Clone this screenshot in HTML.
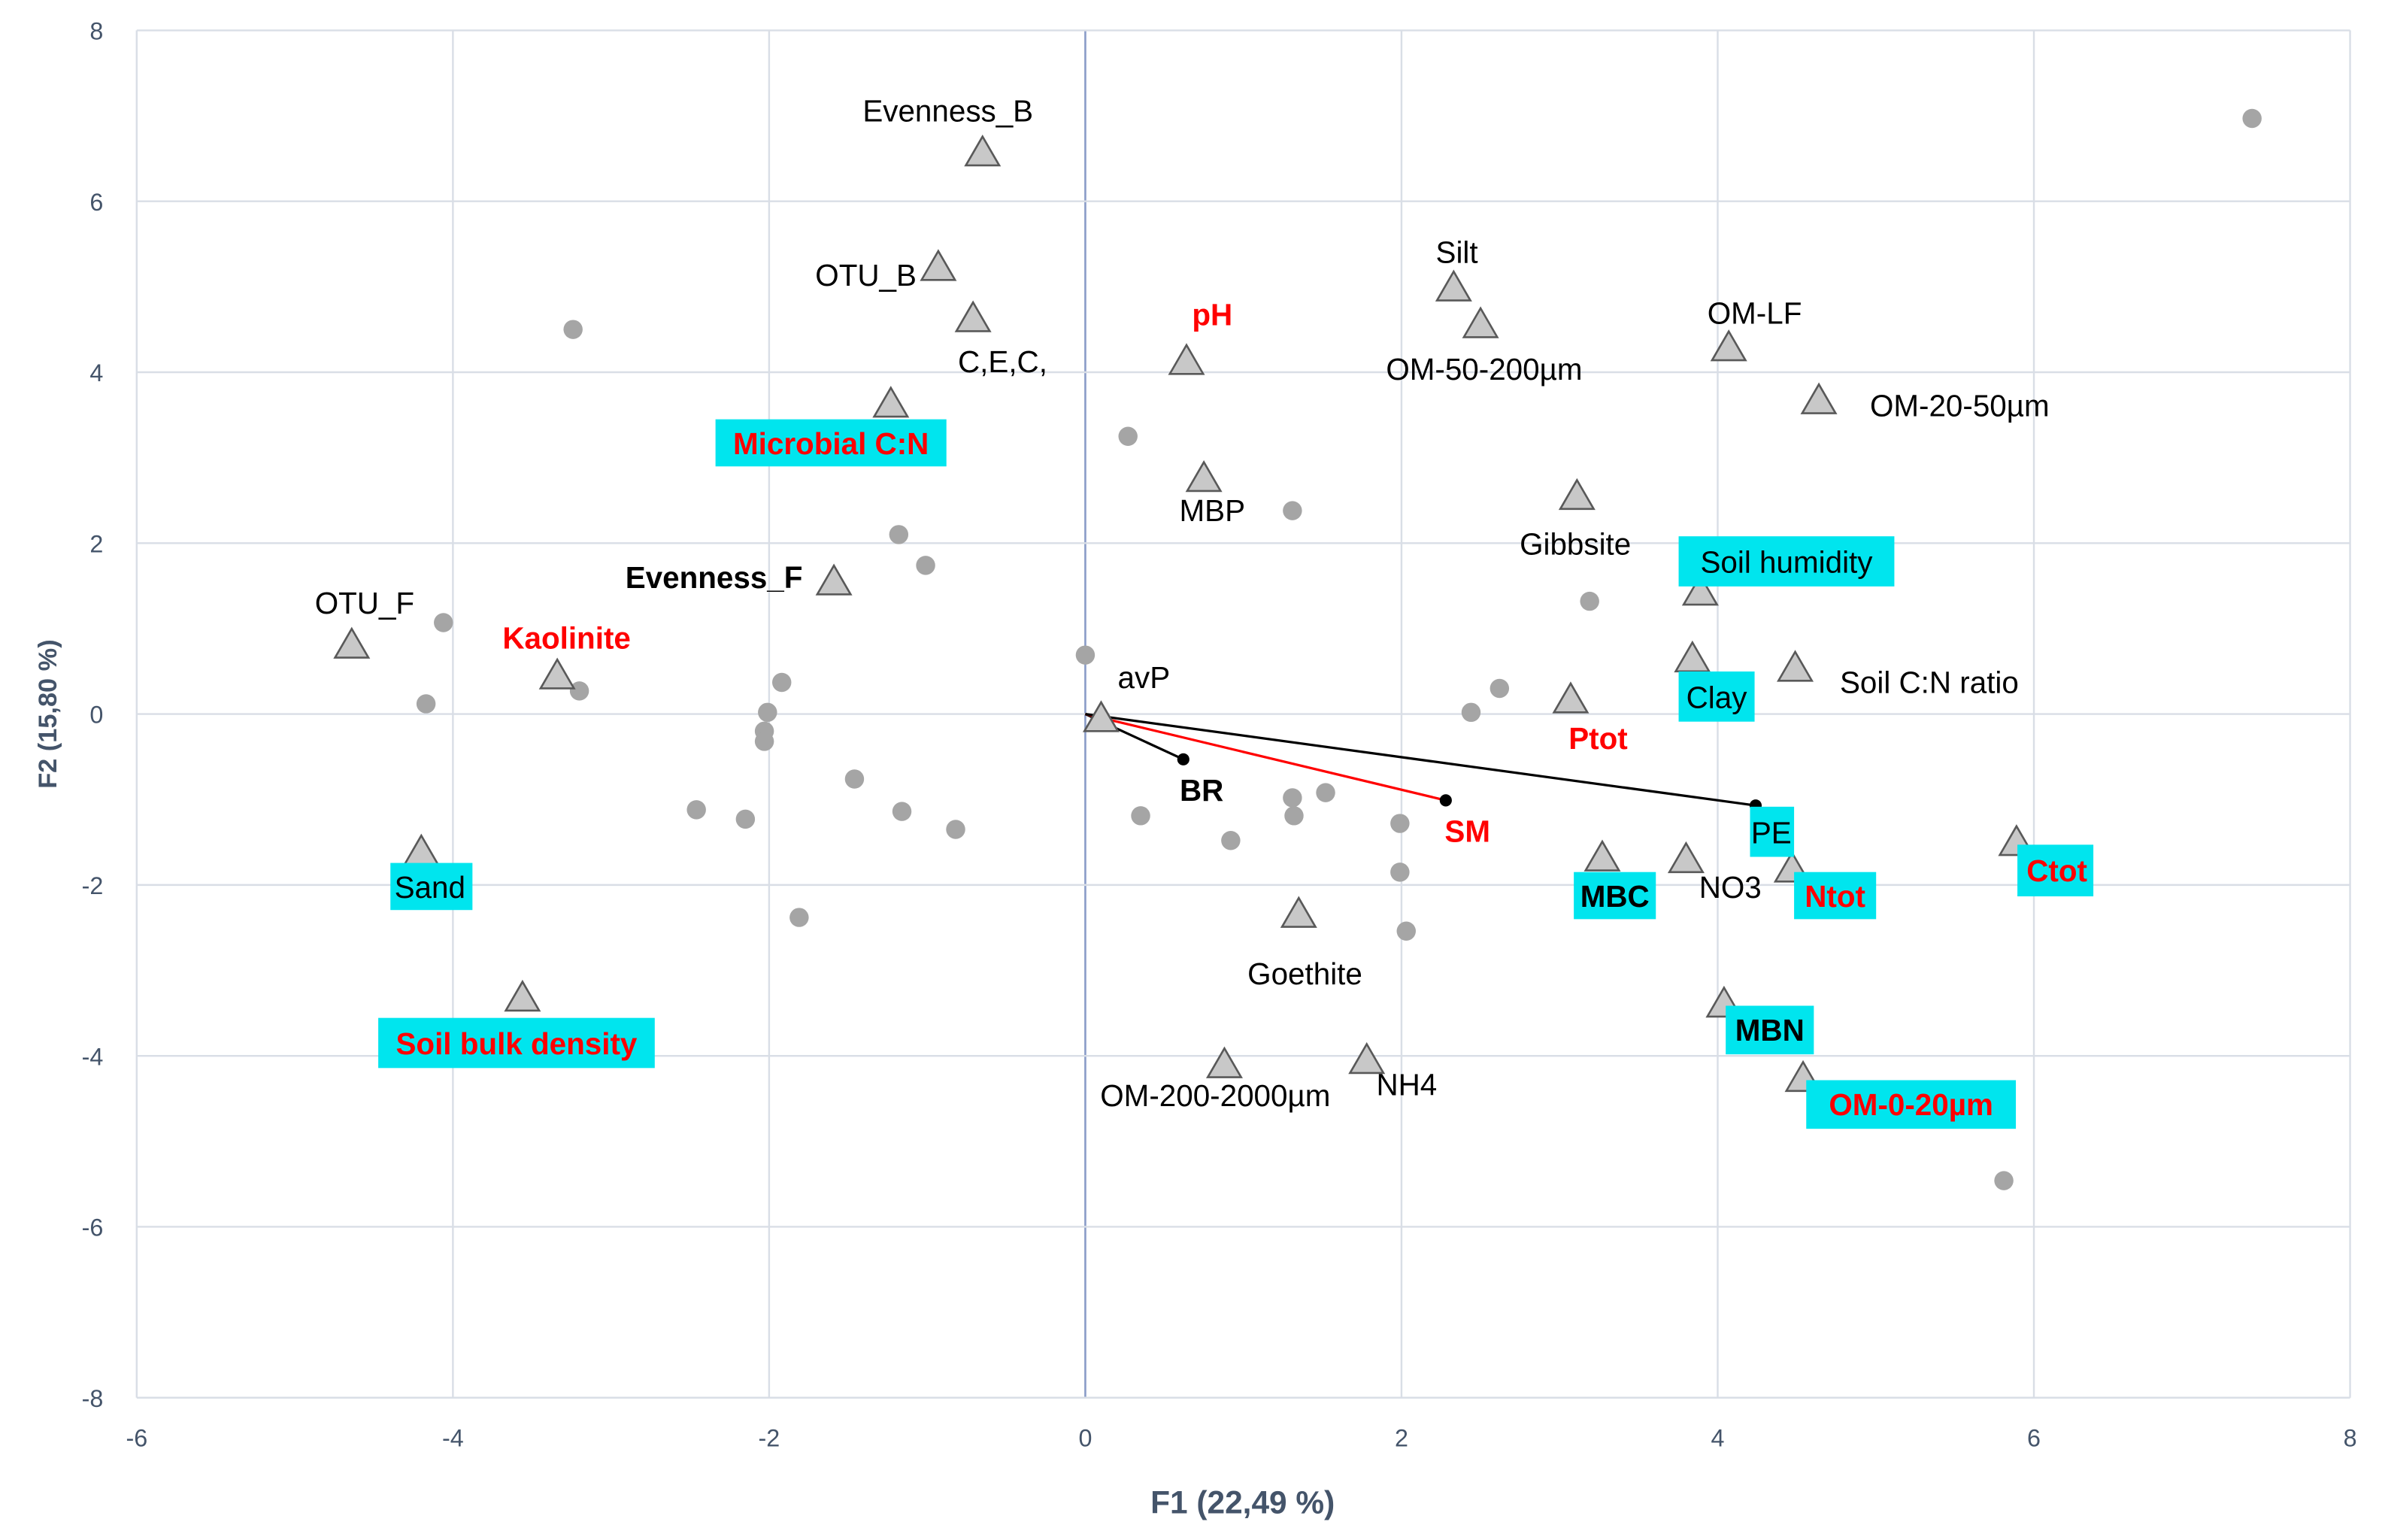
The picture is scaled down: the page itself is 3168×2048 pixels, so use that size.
<!DOCTYPE html>
<html><head><meta charset="utf-8"><style>
html,body{margin:0;padding:0;background:#fff;}
svg{display:block;font-family:"Liberation Sans",Arial,sans-serif;}
</style></head><body>
<svg id="chart" width="3168" height="2048" viewBox="0 0 3168 2048" xmlns="http://www.w3.org/2000/svg">
<g id="root" transform="scale(2.0204)"></g>
</svg>
<script>
const xTicks=[-6,-4,-2,0,2,4,6,8];
const yTicks=[-8,-6,-4,-2,0,2,4,6,8];
const varNames=["Evenness_B","OTU_B","C,E,C,","Microbial C:N","pH","MBP","Silt","OM-50-200µm","OM-LF","OM-20-50µm","Gibbsite","Soil humidity","Clay","Soil C:N ratio","Ptot","Evenness_F","OTU_F","Kaolinite","avP","Sand","Soil bulk density","MBC","NO3","Ntot","Ctot","Goethite","OM-200-2000µm","NH4","MBN","OM-0-20µm"];
const varX=[-0.65,-0.93,-0.71,-1.23,0.64,0.75,2.33,2.5,4.07,4.64,3.11,3.89,3.84,4.49,3.07,-1.59,-4.64,-3.34,0.1,-4.2,-3.56,3.27,3.8,4.47,5.89,1.35,0.88,1.78,4.04,4.54];
const varY=[6.58,5.24,4.64,3.64,4.14,2.77,5.0,4.57,4.3,3.68,2.56,1.44,0.66,0.55,0.18,1.56,0.82,0.46,-0.04,-1.6,-3.31,-1.67,-1.69,-1.8,-1.49,-2.33,-4.09,-4.04,-3.38,-4.25];
const obsX=[7.38,-3.24,0.27,1.31,-1.18,-1.01,-4.06,3.19,0.0,-4.17,-3.2,-1.92,-2.01,-2.03,-2.03,2.62,2.44,-1.46,-2.46,-2.15,-1.16,-0.82,0.35,0.92,1.31,1.32,1.52,1.99,1.99,2.03,-1.81,5.81];
const obsY=[6.97,4.5,3.25,2.38,2.1,1.74,1.07,1.32,0.69,0.12,0.27,0.37,0.02,-0.2,-0.32,0.3,0.02,-0.76,-1.12,-1.23,-1.14,-1.35,-1.19,-1.48,-0.98,-1.19,-0.92,-1.28,-1.85,-2.54,-2.38,-5.46];
const vecNames=["BR","SM","PE"];
const vecX=[0.62,2.28,4.24];
const vecY=[-0.53,-1.01,-1.07];
// label style config: [cx, cy, color, bold, box[x0,y0,x1,y1] or null]
const labelCfg={
"Evenness_B":[624,73,"#000",0,null],"OTU_B":[570,181,"#000",0,null],"C,E,C,":[660,238,"#000",0,null],
"Microbial C:N":[547,292,"#f00",1,[471,276,623,307]],"pH":[798,207,"#f00",1,null],"MBP":[798,336,"#000",0,null],
"Silt":[959,166,"#000",0,null],"OM-50-200µm":[977,243,"#000",0,null],"OM-LF":[1155,206,"#000",0,null],
"OM-20-50µm":[1290,267,"#000",0,null],"Gibbsite":[1037,358,"#000",0,null],"Soil humidity":[1176,370,"#000",0,[1105,353,1247,386]],
"Clay":[1130,459,"#000",0,[1105,442,1155,475]],"Soil C:N ratio":[1270,449,"#000",0,null],"Ptot":[1052,486,"#f00",1,null],
"Evenness_F":[470,380,"#000",1,null],"OTU_F":[240,397,"#000",0,null],"Kaolinite":[373,420,"#f00",1,null],"avP":[753,446,"#000",0,null],
"Sand":[283,584,"#000",0,[257,568,311,599]],"Soil bulk density":[340,687,"#f00",1,[249,670,431,703]],
"MBC":[1063,590,"#000",1,[1036,574,1090,605]],"NO3":[1139,584,"#000",0,null],"Ntot":[1208,590,"#f00",1,[1181,574,1235,605]],
"Ctot":[1354,573,"#f00",1,[1328,556,1378,590]],"Goethite":[859,641,"#000",0,null],"OM-200-2000µm":[800,721,"#000",0,null],
"NH4":[926,714,"#000",0,null],"MBN":[1165,678,"#000",1,[1136,662,1194,694]],"OM-0-20µm":[1258,727,"#f00",1,[1189,711,1327,743]],
"BR":[791,520,"#000",1,null],"SM":[966,547,"#f00",1,null],"PE":[1166,548,"#000",0,[1152,531,1181,564]]
};
const vecColor=["#000","#f00","#000"];
const L=90,R=1547,T=20,B=920,xmin=-6,xmax=8,ymin=-8,ymax=8;
const sx=v=>L+(v-xmin)/(xmax-xmin)*(R-L);
const sy=v=>B-(v-ymin)/(ymax-ymin)*(B-T);
const NS="http://www.w3.org/2000/svg";
const root=document.getElementById('root');
function mk(tag,attrs,parent){const e=document.createElementNS(NS,tag);for(const k in attrs)e.setAttribute(k,attrs[k]);(parent||root).appendChild(e);return e;}
// grid
xTicks.forEach(t=>{
 const g=mk('line',{x1:sx(t),x2:sx(t),y1:T,y2:B,stroke:t===0?'#8a9cc8':'#d9dee6','stroke-width':t===0?1.3:1.2});
 
 
 const l=mk('text',{x:sx(t),y:952,'text-anchor':'middle','font-size':16,fill:'#44546a'});l.textContent=t;
 
 
});
yTicks.forEach(t=>{
 const g=mk('line',{x1:L,x2:R,y1:sy(t),y2:sy(t),stroke:'#d9dee6','stroke-width':1.2});
 
 
 const l=mk('text',{x:68,y:sy(t)+6,'text-anchor':'end','font-size':16,fill:'#44546a'});l.textContent=t;
 
 
});
const xt=mk('text',{x:818,y:996,'text-anchor':'middle','font-size':21,'font-weight':'bold',fill:'#44546a'});xt.textContent='F1 (22,49 %)';


const yt=mk('text',{x:0,y:0,'text-anchor':'middle','font-size':17,'font-weight':'bold',fill:'#44546a',transform:'translate(37,470) rotate(-90)'});yt.textContent='F2 (15,80 %)';


// observations
obsX.forEach((v,i)=>{
 const c=mk('circle',{cx:sx(v),cy:sy(obsY[i]),r:6.3,fill:'#a5a5a5'});
 
 
});
// vectors
vecX.forEach((v,i)=>{
 const ln=mk('line',{x1:sx(0),y1:sy(0),x2:sx(v),y2:sy(vecY[i]),stroke:vecColor[i],'stroke-width':1.6});
 
 
 const d=mk('circle',{cx:sx(v),cy:sy(vecY[i]),r:4,fill:'#000'});
 
 
});
// variable triangles
varX.forEach((v,i)=>{
 const cx=sx(v),cy=sy(varY[i]);
 const p=mk('polygon',{points:`${cx},${cy-10} ${cx-11},${cy+9} ${cx+11},${cy+9}`,fill:'#c8c8c8',stroke:'#595959','stroke-width':1.3});
 
 
});
// labels
function label(name){
 const c=labelCfg[name];if(!c)return;
 if(c[4]){const b=c[4];const r=mk('rect',{x:b[0],y:b[1],width:b[2]-b[0],height:b[3]-b[1],fill:'#00e5ee'});
  
  }
 const t=mk('text',{x:c[0],y:c[1]+7,'text-anchor':'middle','font-size':20,fill:c[2],'font-weight':c[3]?'bold':'normal'});
 t.textContent=name;
 
 
}
varNames.forEach(label);vecNames.forEach(label);
</script>
</body></html>
